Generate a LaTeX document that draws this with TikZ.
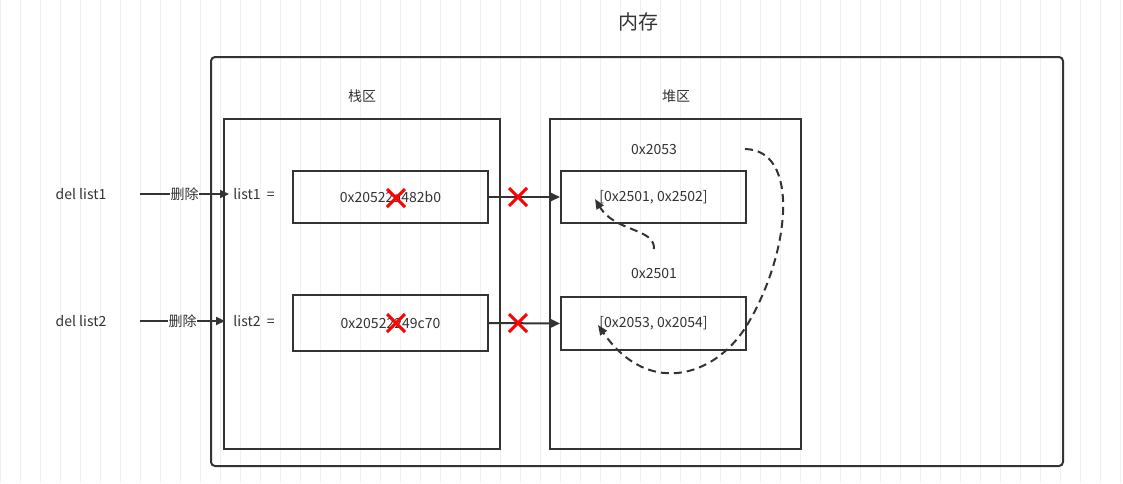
\documentclass[tikz,border=0pt]{standalone}
\usepackage{fontspec}
\setmainfont{Noto Sans CJK SC}
\usetikzlibrary{arrows.meta}
\begin{document}
\begin{tikzpicture}[x=1pt,y=-1pt,
  box/.style={draw=black!80,line width=2pt},
  lbl/.style={font=\fontsize{14}{16}\selectfont,text=black!80,inner sep=1pt},
  arr/.style={draw=black!80,line width=2pt,-{Triangle[length=9pt,width=8pt]}},
  dsh/.style={draw=black!80,line width=2pt,dash pattern=on 8pt off 5pt,-{Triangle[length=10pt,width=8pt]}},
  redx/.style={draw=red,line width=3pt}]
\useasboundingbox (0,0) rectangle (1123,483);
\fill[white] (0,0) rectangle (1123,483);
\draw[black!6,line width=0.6pt] (0,0) grid[step=20] (1123,483);
\node[font=\fontsize{20}{22}\selectfont,text=black!80] (title) at (638,22) {内存};
\draw[box,rounded corners=4pt] (211,57) rectangle (1063,466);
\node[lbl] (stackl) at (362,96) {栈区};
\node[lbl] (heapl) at (676,96) {堆区};
\draw[box] (224,119) rectangle (500,449);
\draw[box] (550,119) rectangle (801,449);
\node[box,minimum width=195pt,minimum height=52pt,lbl,inner sep=0pt] (b1) at (390.5,197) {0x20522a482b0};
\node[box,minimum width=195pt,minimum height=56pt,lbl,inner sep=0pt] (b2) at (390.5,323) {0x20522249c70};
\node[box,minimum width=185pt,minimum height=52pt,lbl,inner sep=0pt] (h1) at (653.5,197) {[0x2501, 0x2502]};
\node[box,minimum width=185pt,minimum height=53pt,lbl,inner sep=0pt] (h2) at (653.5,323.5) {[0x2053, 0x2054]};
\node[lbl] (a1) at (654,150) {0x2053};
\node[lbl] (a2) at (654,274) {0x2501};
\node[lbl] (l1) at (254,194) {list1\ \ =};
\node[lbl] (l2) at (254,321) {list2\ \ =};
\node[lbl] (d1) at (81,194) {del list1};
\node[lbl] (d2) at (81,321) {del list2};
\coordinate (s1) at (140,194); \coordinate (e1) at (229,194);
\coordinate (s2) at (140,321); \coordinate (e2) at (225,321);
\draw[arr] (s1) -- node[lbl,fill=white,inner sep=0.5pt] {删除} (e1);
\draw[arr] (s2) -- node[lbl,fill=white,inner sep=0.5pt] {删除} (e2);
\draw[arr] (b1.east) -- (h1.west);
\draw[arr] (b2.east) -- (h2.west);
\coordinate (c1s) at (654,249); \coordinate (c1e) at (595,199);
\draw[dsh] (c1s) .. controls (655,228) and (615,232) .. (c1e);
\coordinate (c2s) at (745,149); \coordinate (c2e) at (598,325);
\draw[dsh] (c2s) .. controls (800,150) and (790,250) .. (750,320) .. controls (720,375) and (650,400) .. (c2e);
\foreach \x/\y in {396/198,518/197,396/323,518/323}{
  \draw[redx] (\x-9,\y-9) -- (\x+9,\y+9) (\x-9,\y+9) -- (\x+9,\y-9);}
\end{tikzpicture}
\end{document}
